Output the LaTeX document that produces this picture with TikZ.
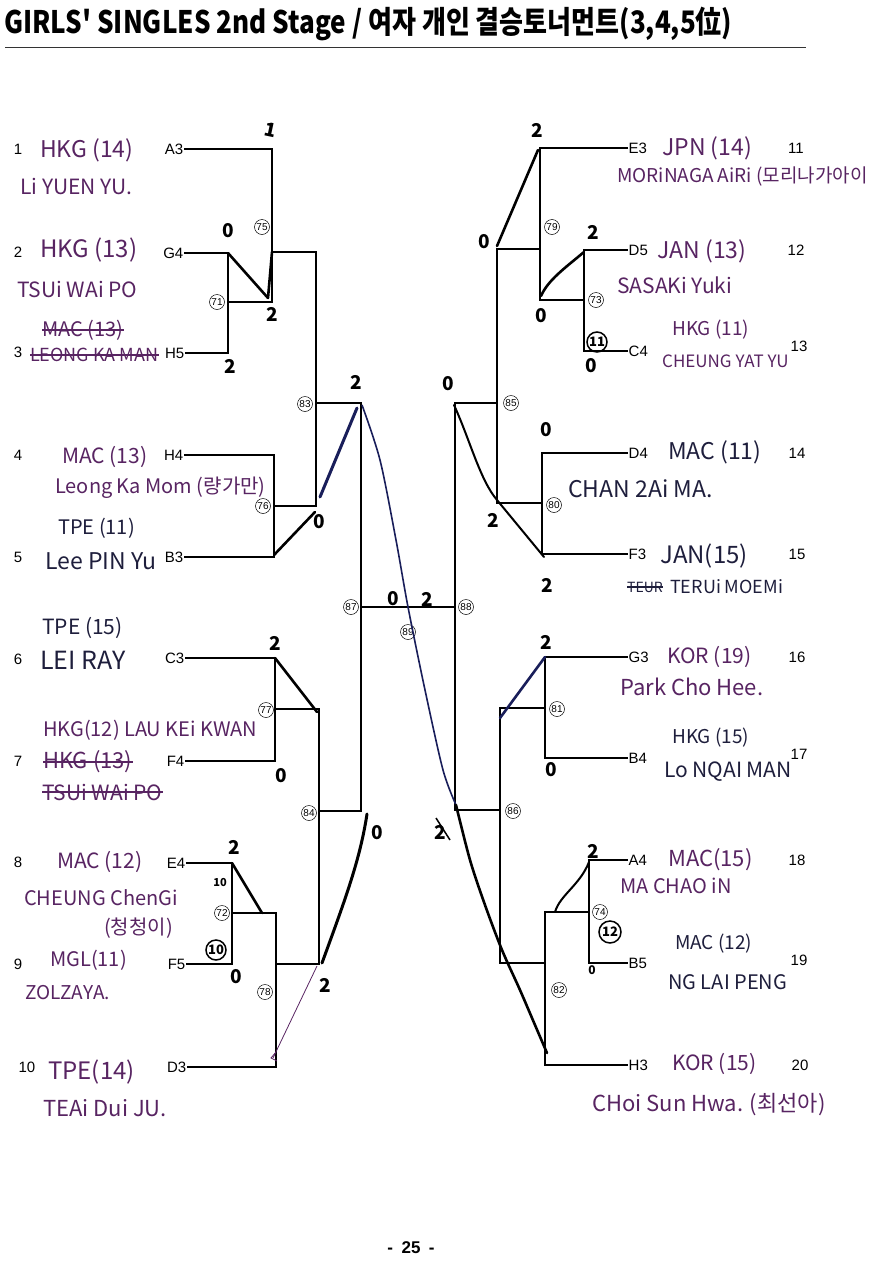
\documentclass[tikz,border=0pt]{standalone}
\usepackage{fontspec}
\setmainfont{Liberation Sans}
\newfontfamily\krfont{Noto Sans CJK KR}
\definecolor{inkP}{RGB}{88,36,98}
\definecolor{inkB}{RGB}{30,30,60}
\definecolor{navy}{RGB}{25,30,90}
\tikzset{
  br/.style={line width=1.3pt, black},
  slotL/.style={anchor=east, inner sep=0.5pt, font=\fontsize{15}{15}\selectfont},
  slotR/.style={anchor=west, inner sep=0.5pt, font=\fontsize{15}{15}\selectfont},
  pnum/.style={inner sep=0pt, font=\fontsize{15}{15}\selectfont},
  mnum/.style={circle, draw, line width=0.5pt, inner sep=0pt, minimum size=15pt, font=\fontsize{10}{10}\selectfont},
  hwP/.style={anchor=west, inner sep=0pt, text=inkP, font=\krfont\fontsize{#1}{#1}\selectfont},
  hwP/.default=20,
  hwN/.style={anchor=west, inner sep=0pt, text=inkB, font=\krfont\fontsize{#1}{#1}\selectfont},
  hwN/.default=20,
  sc/.style={inner sep=0pt, font=\krfont\bfseries\fontsize{19}{19}\selectfont},
  scs/.style={inner sep=0pt, font=\krfont\bfseries\fontsize{11}{11}\selectfont},
  ring/.style={circle, draw, line width=1.5pt, inner sep=0pt, font=\krfont\bfseries\fontsize{13}{13}\selectfont},
  win/.style={line width=2.6pt, line cap=round, line join=round},
  strike/.style={line width=1.2pt, inkP}
}
\begin{document}
\begin{tikzpicture}[x=1pt,y=-1pt]
\fill[white] (0,0) rectangle (870,1261);
\useasboundingbox (0,0) rectangle (870,1261);

% title
\node[anchor=west, inner sep=0pt] (title) at (4,24) {\scalebox{0.84}[1]{\krfont\bfseries\fontsize{31}{31}\selectfont GIRLS' SINGLES 2nd Stage / 여자 개인 결승토너먼트(3,4,5位)}};
\coordinate (rl1) at (5,47);
\coordinate (rl2) at (806,47);
\draw[line width=1pt, black!80] (rl1) -- (rl2);

% page number
\node[inner sep=0pt, font=\bfseries\fontsize{17}{17}\selectfont] (page) at (411,1248) {-\enspace 25\enspace -};

% ---------- left printed labels ----------
\foreach \n/\y in {1/149,2/252,3/352,4/455,5/557,6/659,7/761,8/862,9/964}{\node[pnum] (pn\n) at (18,\y) {\n};}
\node[pnum] (pn10) at (27,1067) {10};
\node[slotL] (lA3) at (184,149) {A3};
\node[slotL] (lG4) at (184,253) {G4};
\node[slotL] (lH5) at (185,353) {H5};
\node[slotL] (lH4) at (184,455) {H4};
\node[slotL] (lB3) at (184,557) {B3};
\node[slotL] (lC3) at (185,658) {C3};
\node[slotL] (lF4) at (185,761) {F4};
\node[slotL] (lE4) at (186,863) {E4};
\node[slotL] (lF5) at (186,964) {F5};
\node[slotL] (lD3) at (187,1067) {D3};

% ---------- right printed labels ----------
\node[slotR] (rE3) at (628,148) {E3};
\node[slotR] (rD5) at (628,250) {D5};
\node[slotR] (rC4) at (628,351) {C4};
\node[slotR] (rD4) at (628,453) {D4};
\node[slotR] (rF3) at (628,554) {F3};
\node[slotR] (rG3) at (628,657) {G3};
\node[slotR] (rB4) at (628,758) {B4};
\node[slotR] (rA4) at (628,860) {A4};
\node[slotR] (rB5) at (628,963) {B5};
\node[slotR] (rH3) at (628,1065) {H3};
\node[pnum] (pn11) at (796,148) {11};
\node[pnum] (pn12) at (796,250) {12};
\node[pnum] (pn13) at (799,346) {13};
\node[pnum] (pn14) at (797,453) {14};
\node[pnum] (pn15) at (797,554) {15};
\node[pnum] (pn16) at (797,657) {16};
\node[pnum] (pn17) at (799,754) {17};
\node[pnum] (pn18) at (797,860) {18};
\node[pnum] (pn19) at (799,960) {19};
\node[pnum] (pn20) at (800,1065) {20};

% ---------- left bracket coordinates ----------
\coordinate (c71t) at (228,253); \coordinate (c71b) at (228,353); \coordinate (c71o) at (228,302);
\coordinate (c75t) at (272,149); \coordinate (c75b) at (272,302); \coordinate (c75o) at (272,252);
\coordinate (c83t) at (316,252); \coordinate (c83b) at (316,506); \coordinate (c83o) at (316,403);
\coordinate (c76t) at (274,455); \coordinate (c76b) at (274,557); \coordinate (c76o) at (274,506);
\coordinate (c87t) at (361,403); \coordinate (c87b) at (361,811); \coordinate (c87o) at (361,607);
\coordinate (c77t) at (275,658); \coordinate (c77b) at (275,761); \coordinate (c77o) at (275,709);
\coordinate (c84t) at (319,709); \coordinate (c84b) at (319,964); \coordinate (c84o) at (319,811);
\coordinate (c72t) at (232,863); \coordinate (c72b) at (232,964); \coordinate (c72o) at (232,913);
\coordinate (c78t) at (276,913); \coordinate (c78b) at (276,1067); \coordinate (c78o) at (276,964);
% ---------- right bracket coordinates ----------
\coordinate (c79t) at (540,148); \coordinate (c79b) at (540,300); \coordinate (c79o) at (540,249);
\coordinate (c73t) at (584,250); \coordinate (c73b) at (584,351); \coordinate (c73o) at (584,300);
\coordinate (c85t) at (497,249); \coordinate (c85b) at (497,503); \coordinate (c85o) at (497,403);
\coordinate (c80t) at (542,453); \coordinate (c80b) at (542,554); \coordinate (c80o) at (542,503);
\coordinate (c88t) at (455,403); \coordinate (c88b) at (455,810); \coordinate (c88o) at (455,607);
\coordinate (c81t) at (545,657); \coordinate (c81b) at (545,758); \coordinate (c81o) at (545,708);
\coordinate (c86t) at (500,708); \coordinate (c86b) at (500,963); \coordinate (c86o) at (500,810);
\coordinate (c74t) at (589,860); \coordinate (c74b) at (589,963); \coordinate (c74o) at (589,912);
\coordinate (c82t) at (545,912); \coordinate (c82b) at (545,1065); \coordinate (c82o) at (545,963);

% ---------- bracket lines ----------
\draw[br] (lG4.east) -- (c71t) -- (c71b) -- (lH5.east);
\draw[br] (lA3.east) -- (c75t) -- (c75b) -- (c71o);
\draw[br] (c75o) -- (c83t) -- (c83b) -- (c76o);
\draw[br] (lH4.east) -- (c76t) -- (c76b) -- (lB3.east);
\draw[br] (c83o) -- (c87t) -- (c87b) -- (c84o);
\draw[br] (lC3.east) -- (c77t) -- (c77b) -- (lF4.east);
\draw[br] (c77o) -- (c84t) -- (c84b) -- (c78o);
\draw[br] (lE4.east) -- (c72t) -- (c72b) -- (lF5.east);
\draw[br] (c72o) -- (c78t) -- (c78b) -- (lD3.east);
\draw[br] (c87o) -- (c88o);
\draw[br] (rE3.west) -- (c79t) -- (c79b) -- (c73o);
\draw[br] (rD5.west) -- (c73t) -- (c73b) -- (rC4.west);
\draw[br] (c79o) -- (c85t) -- (c85b) -- (c80o);
\draw[br] (rD4.west) -- (c80t) -- (c80b) -- (rF3.west);
\draw[br] (c85o) -- (c88t) -- (c88b) -- (c86o);
\draw[br] (rG3.west) -- (c81t) -- (c81b) -- (rB4.west);
\draw[br] (c81o) -- (c86t) -- (c86b) -- (c82o);
\draw[br] (rA4.west) -- (c74t) -- (c74b) -- (rB5.west);
\draw[br] (c74o) -- (c82t) -- (c82b) -- (rH3.west);

% ---------- match numbers ----------
\node[mnum, fill=white] (m71) at (217,302) {71};
\node[mnum] (m75) at (262,227) {75};
\node[mnum, fill=white] (m83) at (305,404) {83};
\node[mnum, fill=white] (m76) at (263,506) {76};
\node[mnum, fill=white] (m87) at (351,607) {87};
\node[mnum] (m89) at (408,632) {89};
\node[mnum, fill=white] (m77) at (266,710) {77};
\node[mnum, fill=white] (m84) at (309,813) {84};
\node[mnum, fill=white] (m72) at (222,913) {72};
\node[mnum] (m78) at (265,992) {78};
\node[mnum] (m79) at (552,227) {79};
\node[mnum] (m73) at (596,300) {73};
\node[mnum, fill=white] (m85) at (511,403) {85};
\node[mnum, fill=white] (m80) at (554,505) {80};
\node[mnum, fill=white] (m88) at (466,607) {88};
\node[mnum, fill=white] (m81) at (557,709) {81};
\node[mnum, fill=white] (m86) at (513,811) {86};
\node[mnum] (m74) at (600,912) {74};
\node[mnum] (m82) at (559,990) {82};

% ---------- winner paths (handwritten) ----------
\draw[win] (c71t) -- (268,298) -- (c75o);
\draw[win] (274,555) -- (315,512);
\draw[win, navy, line width=3pt] (320,497) -- (357,408);
\draw[win] (c77t) -- (317,712);
\draw[win, line width=3pt] (322,963) .. controls (345,900) and (360,860) .. (367,814);
\draw[win] (c72t) -- (262,913);
\draw[inkP, line width=0.8pt] (273,1058) -- (317,966);
\draw[inkP, line width=0.8pt] (276,1052) -- (271,1058) -- (277,1061);
\draw[win] (497,246) -- (538,150);
\draw[win] (541,296) .. controls (548,280) and (565,268) .. (584,252);
\draw[win, line width=2pt] (454,405) .. controls (470,440) and (480,480) .. (497,500) -- (544,557);
\draw[win, navy] (500,718) -- (545,657);
\draw[win, line width=2pt] (555,912) .. controls (560,895) and (580,885) .. (589,862);
\draw[navy, line width=1.6pt] plot[smooth] coordinates {(362,405) (380,460) (396,540) (408,607) (425,690) (443,770) (456,805)};
\draw[black, line width=2.6pt, line cap=round] plot[smooth] coordinates {(456,805) (470,860) (485,905) (502,950) (520,990) (535,1025) (547,1053)};

% ---------- scores ----------
\node[sc, rotate=-12] (s1) at (271,130) {1};
\node[sc] (s2) at (228,231) {0};
\node[sc] (s3) at (272,314) {2};
\node[sc] (s4) at (230,366) {2};
\node[sc] (s5) at (356,382) {2};
\node[sc] (s6) at (319,522) {0};
\node[sc] (s7) at (275,643) {2};
\node[sc] (s8) at (281,776) {0};
\node[sc] (s9) at (377,833) {0};
\node[sc] (s10) at (325,985) {2};
\node[sc] (s11) at (234,847) {2};
\node[scs] (s12) at (220,882) {10};
\node[ring, minimum size=20pt] (s13) at (216,950) {10};
\node[sc] (s14) at (236,977) {0};
\node[sc] (s15) at (393,599) {0};
\node[sc] (s16) at (427,599) {2};
\node[sc] (s17) at (537,130) {2};
\node[sc] (s18) at (484,242) {0};
\node[sc] (s19) at (593,232) {2};
\node[sc] (s20) at (541,316) {0};
\node[ring, minimum size=20pt] (s21) at (597,342) {11};
\node[sc] (s22) at (591,366) {0};
\node[sc] (s23) at (448,384) {0};
\node[sc] (s24) at (546,430) {0};
\node[sc] (s25) at (493,520) {2};
\node[sc] (s26) at (547,585) {2};
\node[sc] (s27) at (546,642) {2};
\node[sc] (s28) at (551,770) {0};
\node[sc] (s29) at (440,832) {2};
\draw[line width=1.5pt] (436,818) -- (450,840);
\node[sc] (s30) at (593,851) {2};
\node[ring, minimum size=22pt] (s31) at (610,932) {12};
\node[scs, font=\krfont\bfseries\fontsize{12}{12}\selectfont] (s32) at (592,970) {0};

% ---------- handwritten names, left ----------
\node[hwP=23] (h1a) at (40,150) {HKG (14)};
\node[hwP=21] (h1b) at (20,186) {Li YUEN YU.};
\node[hwP=24] (h2a) at (40,250) {HKG (13)};
\node[hwP=21] (h2b) at (17,289) {TSUi WAi PO};
\node[hwP=20] (h3a) at (42,330) {MAC (13)};
\node[hwP=18] (h3b) at (30,355) {LEONG KA MAN};
\draw[strike] (h3a.west) -- (h3a.east);
\draw[strike] (h3b.west) -- (h3b.east);
\node[hwP=21] (h4a) at (62,457) {MAC (13)};
\node[hwP=20] (h4b) at (55,488) {Leong Ka Mom (량가만)};
\node[hwN=20] (h5a) at (58,528) {TPE (11)};
\node[hwN=23] (h5b) at (45,561) {Lee PIN Yu};
\node[hwN=21] (h6a) at (42,628) {TPE (15)};
\node[hwN=25] (h6b) at (40,660) {LEI RAY};
\node[hwP=20] (h7a) at (43,730) {HKG(12) LAU KEi KWAN};
\node[hwP=22] (h7b) at (43,762) {HKG (13)};
\node[hwP=21] (h7c) at (42,792) {TSUi WAi PO};
\draw[strike] (h7b.west) -- (h7b.east);
\draw[strike] (h7c.west) -- (h7c.east);
\node[hwP=21] (h8a) at (57,862) {MAC (12)};
\node[hwP=20] (h8b) at (24,898) {CHEUNG ChenGi};
\node[hwP=20] (h8c) at (104,928) {(청청이)};
\node[hwP=20] (h9a) at (50,960) {MGL(11)};
\node[hwP=19] (h9b) at (25,993) {ZOLZAYA.};
\node[hwP=24] (h10a) at (48,1072) {TPE(14)};
\node[hwP=22] (h10b) at (43,1108) {TEAi Dui JU.};

% ---------- handwritten names, right ----------
\node[hwP=23] (h11a) at (662,148) {JPN (14)};
\node[hwP=19] (h11b) at (617,177) {MORiNAGA AiRi (모리나가아이};
\node[hwP=23] (h12a) at (657,251) {JAN (13)};
\node[hwP=21] (h12b) at (617,285) {SASAKi Yuki};
\node[hwP=19] (h13a) at (672,330) {HKG (11)};
\node[hwP=17] (h13b) at (662,361) {CHEUNG YAT YU};
\node[hwN=23] (h14a) at (668,452) {MAC (11)};
\node[hwN=23] (h14b) at (568,489) {CHAN 2Ai MA.};
\node[hwN=24] (h15a) at (660,556) {JAN(15)};
\node[hwN=14] (h15x) at (627,587) {TEUR};
\draw[line width=1.2pt, inkB] (h15x.west) -- (h15x.east);
\node[hwN=18] (h15b) at (670,587) {TERUi MOEMi};
\node[hwP=21] (h16a) at (667,657) {KOR (19)};
\node[hwP=22] (h16b) at (620,687) {Park Cho Hee.};
\node[hwN=19] (h17a) at (672,738) {HKG (15)};
\node[hwN=21] (h17b) at (664,772) {Lo NQAI MAN};
\node[hwP=22] (h18a) at (668,860) {MAC(15)};
\node[hwP=20] (h18b) at (620,886) {MA CHAO iN};
\node[hwN=19] (h19a) at (675,944) {MAC (12)};
\node[hwN=20] (h19b) at (668,982) {NG LAI PENG};
\node[hwP=21] (h20a) at (672,1064) {KOR (15)};
\node[hwP=22] (h20b) at (592,1105) {CHoi Sun Hwa. (최선아)};
\end{tikzpicture}
\end{document}
